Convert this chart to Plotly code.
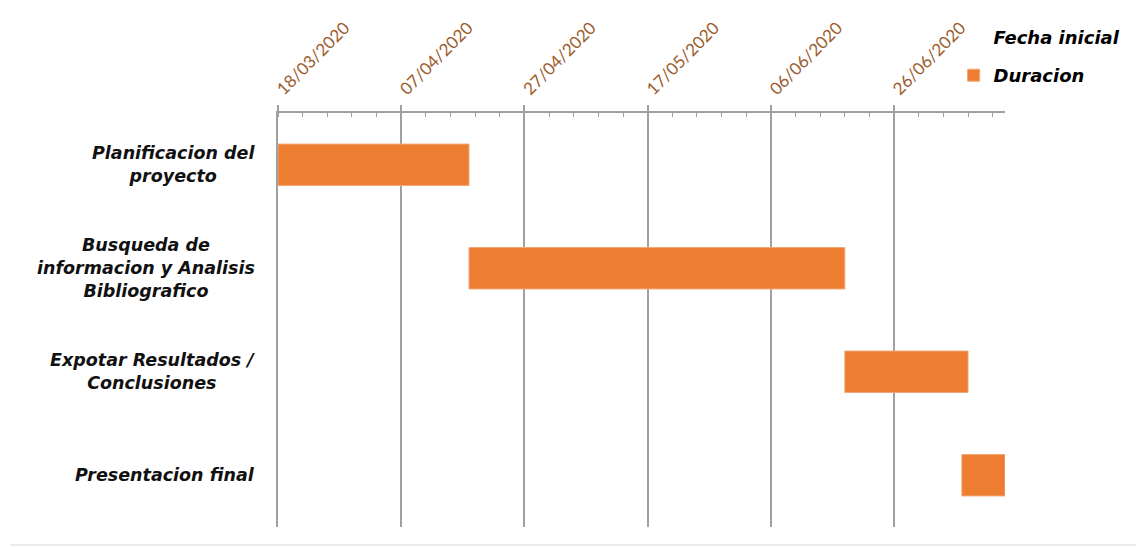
import plotly.graph_objects as go
import pandas as pd

tareas = [
    "Planificacion del<br>proyecto",
    "Busqueda de<br>informacion y Analisis<br>Bibliografico",
    "Expotar Resultados /<br>Conclusiones",
    "Presentacion final",
]
fecha_inicial = ["2020-03-18", "2020-04-18", "2020-06-18", "2020-07-07"]
duracion_dias = [31, 61, 20, 7]

eje_inicio = "2020-03-18"
eje_fin = "2020-07-14"

DAY_MS = 86400000
inicio_ts = pd.to_datetime(fecha_inicial)
eje0 = pd.Timestamp(eje_inicio)
offset_ms = [(t - eje0).days * DAY_MS for t in inicio_ts]
dur_ms = [d * DAY_MS for d in duracion_dias]

W, H = 1137, 547
ML, MR, MT, MB = 278, 131, 113, 20

fig = go.Figure()
fig.add_trace(go.Bar(
    name="Fecha inicial", y=tareas, x=offset_ms, base=[eje_inicio] * len(tareas),
    orientation="h", marker=dict(color="rgba(0,0,0,0)", line=dict(width=0)),
    width=0.4, legendgroup="a", hoverinfo="skip",
))
fig.add_trace(go.Bar(
    name="Duracion", y=tareas, x=dur_ms, base=fecha_inicial,
    orientation="h", marker=dict(color="#ED7D31", line=dict(color="#F4A775", width=1)),
    width=0.4, legendgroup="b",
))

for t in tareas:
    fig.add_annotation(
        x=0, xref="paper", y=t, yref="y", text=t,
        xanchor="right", yanchor="middle", align="center", xshift=-21,
        showarrow=False,
        font=dict(family="DejaVu Sans", size=17.5, color="#111111", weight="bold", style="italic"),
    )

pw = W - ML - MR
ph = H - MT - MB
fig.add_shape(type="line", xref="paper", yref="paper",
              x0=(10 - ML) / pw, x1=(1137 - ML) / pw,
              y0=-(545 - (H - MB)) / ph, y1=-(545 - (H - MB)) / ph,
              line=dict(color="#E3E3E3", width=1.5))

fig.update_layout(
    width=W, height=H,
    margin=dict(l=ML, r=MR, t=MT, b=MB),
    paper_bgcolor="white", plot_bgcolor="white",
    barmode="overlay",
    showlegend=True,
    legend=dict(
        x=0.928, y=1.228, xanchor="left", yanchor="top",
        font=dict(family="DejaVu Sans", size=18, color="#000000", weight="bold", style="italic"),
        traceorder="grouped", tracegroupgap=12, bgcolor="rgba(0,0,0,0)",
        itemclick=False,
    ),
    xaxis=dict(
        type="date", side="top", range=[eje_inicio, eje_fin],
        tick0=eje_inicio, dtick=20 * DAY_MS, tickformat="%d/%m/%Y",
        tickangle=-45, tickfont=dict(family="Lato, Carlito, sans-serif", size=17, color="#9C5B2D"),
        ticks="outside", ticklen=6, tickcolor="#A0A0A0", tickwidth=1.5,
        showline=True, linecolor="#A0A0A0", linewidth=1.5,
        showgrid=True, gridcolor="#A0A0A0", gridwidth=1.5, zeroline=False,
        minor=dict(tick0=eje_inicio, dtick=4 * DAY_MS, ticks="inside", ticklen=4,
                   tickcolor="#A0A0A0", tickwidth=1.2, showgrid=False),
    ),
    yaxis=dict(
        autorange="reversed", showticklabels=False, ticks="",
        showline=True, linecolor="#A0A0A0", linewidth=1.5, showgrid=False,
        zeroline=False,
    ),
)

fig.write_html("out.html")
